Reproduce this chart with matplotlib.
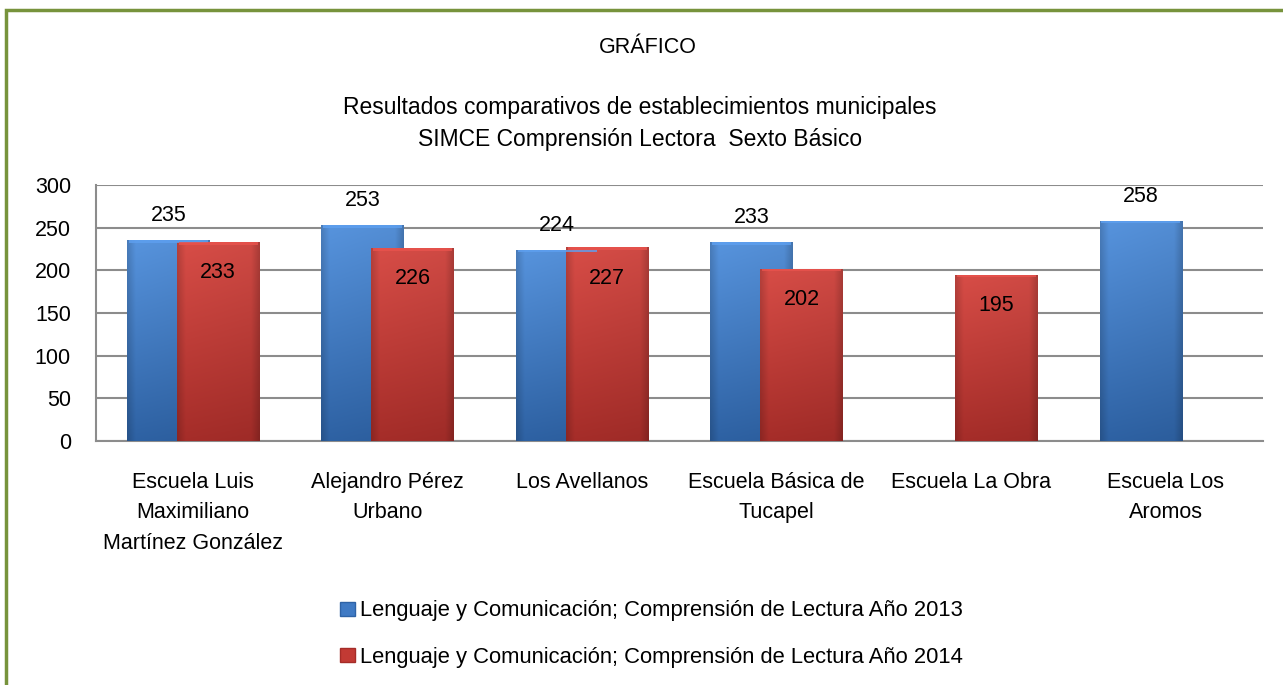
import numpy as np
import matplotlib
matplotlib.use("Agg")
import matplotlib.pyplot as plt
from matplotlib.colors import to_rgb
from matplotlib.patches import Rectangle, Patch

plt.rcParams["font.family"] = ["Liberation Sans", "DejaVu Sans"]

categories = [
    "Escuela Luis\nMaximiliano\nMartínez González",
    "Alejandro Pérez\nUrbano",
    "Los Avellanos",
    "Escuela Básica de\nTucapel",
    "Escuela La Obra",
    "Escuela Los\nAromos",
]
anio_2013 = [235, 253, 224, 233, None, 258]
anio_2014 = [233, 226, 227, 202, 195, None]
series_labels = [
    "Lenguaje y Comunicación; Comprensión de Lectura Año 2013",
    "Lenguaje y Comunicación; Comprensión de Lectura Año 2014",
]
y_ticks = [0, 50, 100, 150, 200, 250, 300]

blue_top, blue_bot = "#5794de", "#2e62a4"
red_top, red_bot = "#d84d47", "#a62d29"

FS = 15.5


def shaded_bar(ax, x, h, width, c_top, c_bot):
    # barra con degradado tipo Excel (recortado al rectangulo)
    rect = ax.bar(x, h, width, color=c_bot, zorder=3)[0]
    ny, nx = 80, 60
    t = np.linspace(0, 1, ny)[:, None, None]
    top = np.array(to_rgb(c_top))
    bot = np.array(to_rgb(c_bot))
    img = top * (1 - t) + bot * t
    img = np.repeat(img, nx, axis=1)
    u = np.linspace(-1, 1, nx)
    edge = 1 - 0.16 * np.clip((np.abs(u) - 0.8) / 0.2, 0, 1) - 0.05 * (u + 1) / 2
    img = img * edge[None, :, None]
    im = ax.imshow(np.clip(img, 0, 1), extent=(x - width / 2, x + width / 2, 0, h),
                   aspect="auto", origin="upper", zorder=4, interpolation="bilinear")
    im.set_clip_path(rect)
    # bisel superior
    ax.add_patch(Rectangle((x - width / 2 + 0.01, h - 3), width - 0.02, 3,
                           color=np.clip(top * 1.08, 0, 1), zorder=5, lw=0, alpha=0.8))
    return rect


fig = plt.figure(figsize=(12.83, 6.85), dpi=100)
ax = fig.add_axes([0.0748, 0.3562, 0.9096, 0.3737])

off = 0.128
width = 0.425
x = np.arange(len(categories))
for i in x:
    if anio_2013[i] is not None:
        shaded_bar(ax, i - off, anio_2013[i], width, blue_top, blue_bot)
        ax.text(i - off, anio_2013[i] + 29, str(anio_2013[i]), ha="center", va="center",
                fontsize=FS, zorder=6)
for i in x:
    if anio_2014[i] is not None:
        shaded_bar(ax, i + off, anio_2014[i], width, red_top, red_bot)
        ax.text(i + off, anio_2014[i] - 36, str(anio_2014[i]), ha="center", va="center",
                fontsize=FS, zorder=6)

ax.set_xlim(-0.5, len(categories) - 0.5)
ax.set_ylim(0, 300)
ax.set_yticks(y_ticks)
ax.set_xticks(x)
ax.set_xticklabels(categories, fontsize=FS, linespacing=1.62)
ax.tick_params(axis="y", length=0, pad=18, labelsize=FS)
ax.tick_params(axis="x", length=0, pad=22)
ax.yaxis.grid(True, color="#8c8c8c", linewidth=1.5, zorder=0)
ax.set_axisbelow(True)
for s in ["top", "right"]:
    ax.spines[s].set_visible(False)
for s in ["left", "bottom"]:
    ax.spines[s].set_color("#8c8c8c")
    ax.spines[s].set_linewidth(1.5)

fig.text(0.505, 0.931, "GRÁFICO", ha="center", va="center", fontsize=FS)
fig.text(0.4988, 0.8204, "Resultados comparativos de establecimientos municipales\nSIMCE Comprensión Lectora  Sexto Básico",
         ha="center", va="center", fontsize=16.5, linespacing=1.5)

handles = [Patch(facecolor="#3f7ac4", edgecolor="#2e63a6"),
           Patch(facecolor="#c23a34", edgecolor="#a52c28")]
fig.legend(handles, series_labels, loc="center", bbox_to_anchor=(0.508, 0.0745),
           frameon=False, fontsize=15.8, handlelength=0.68, handleheight=0.6,
           handletextpad=0.23, labelspacing=1.15)

# marco verde
fig.add_artist(Rectangle((0.0047, -0.05), 1.2, 1.0354, transform=fig.transFigure,
                         fill=False, edgecolor="#77933c", linewidth=2.5))

fig.savefig("out.png", dpi=100)
